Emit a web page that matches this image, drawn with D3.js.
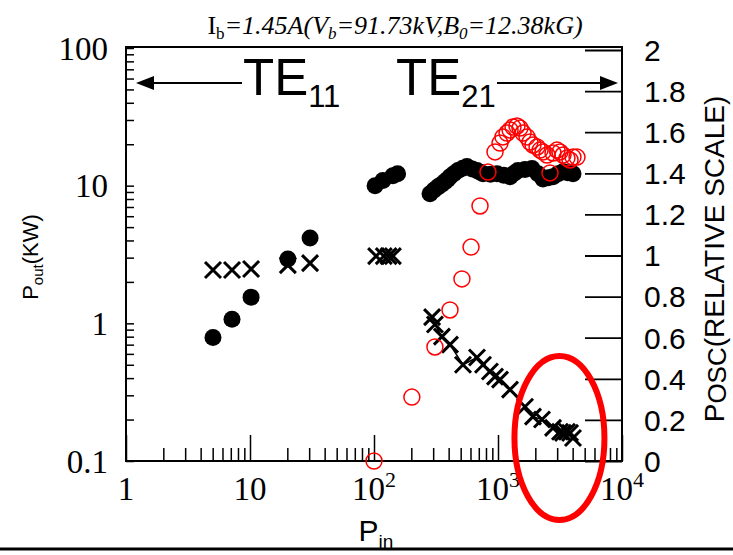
<!DOCTYPE html>
<html>
<head>
<meta charset="utf-8">
<script src="https://cdn.jsdelivr.net/npm/d3@7"></script>
<style>
  html, body { margin: 0; padding: 0; background: #fff; }
  svg { display: block; }
</style>
</head>
<body>
<svg id="chart" width="733" height="555"></svg>
<script>
// ---------------- DATA ----------------
// filled black circles: P_out (kW) vs P_in
const circX = [5.03, 7.16, 10.2, 20.2, 30.5, 102, 118, 142, 155,
  283, 305, 328, 350, 374, 392, 410, 440, 476, 520, 562, 620, 677, 720, 757, 870, 982, 1110, 1250, 1350, 1449, 1650, 1880, 2100, 2306, 2540, 2778, 3050, 3343, 3650, 4025];
const circY = [0.79, 1.07, 1.55, 2.93, 4.17, 10.0, 10.9, 11.8, 12.2,
  8.75, 9.3, 9.8, 10.2, 10.7, 11.1, 11.6, 12.2, 12.9, 13.4, 13.8, 13.2, 12.9, 12.5, 12.2, 12.1, 12.2, 11.9, 11.6, 12.3, 12.9, 13.1, 13.3, 12.2, 11.2, 11.4, 11.6, 12.2, 12.6, 12.4, 12.2];

// crosses (low power, separate points)
const crossX = [5.03, 7.16, 10.2, 20.2, 30.5, 104, 120, 131, 142];
const crossY = [2.44, 2.44, 2.48, 2.65, 2.74, 3.08, 3.08, 3.08, 3.08];

// crosses on connected descending line
const lineX = [294, 310, 353, 410, 522, 677, 757, 861, 946, 1038, 1250, 1651, 1915, 2263, 2778, 3162, 3343, 3597, 3810, 4025];
const lineY = [1.11, 0.98, 0.80, 0.70, 0.50, 0.565, 0.50, 0.447, 0.41, 0.39, 0.33, 0.248, 0.21, 0.20, 0.174, 0.163, 0.16, 0.163, 0.16, 0.147];

// red open circles: P_osc (relative scale, right axis)
const oscX = [100, 202, 310, 410, 512, 606, 716, 830, 946,
  1038, 1097, 1182, 1250, 1321, 1422, 1504, 1592, 1714, 1811, 1915, 2065, 2183, 2306, 2485, 2626, 2778, 2992, 3162, 3343, 3597, 3810, 4025, 4335];
const oscY = [0, 0.311, 0.555, 0.735, 0.886, 1.041, 1.241, 1.406, 1.504,
  1.547, 1.577, 1.596, 1.611, 1.625, 1.630, 1.620, 1.596, 1.577, 1.552, 1.538, 1.528, 1.513, 1.504, 1.489, 1.402, 1.499, 1.513, 1.504, 1.489, 1.474, 1.465, 1.479, 1.479];

// axis tick values / labels
const xMajor = [1, 10, 100, 1000, 10000];
const xMajorBase = ["1", "10", "10", "10", "10"];
const xMajorExp = ["", "", "2", "3", "4"];
const yLeftMajor = [100, 10, 1, 0.1];
const yLeftLabels = ["100", "10", "1", "0.1"];
const yRightTicks = [0, 0.2, 0.4, 0.6, 0.8, 1, 1.2, 1.4, 1.6, 1.8, 2];
const yRightLabels = ["0", "0.2", "0.4", "0.6", "0.8", "1", "1.2", "1.4", "1.6", "1.8", "2"];

// annotation ellipse centre (data coords: P_in, P_osc)
const ellipseCentre = [3130, 0.112];

// ---------------- LAYOUT ----------------
const L = 126, R = 622, T = 47, B = 461;
const svg = d3.select("#chart");
const x = d3.scaleLog().domain([1, 10000]).range([L, R]);
const yL = d3.scaleLog().domain([0.1, 100]).range([B, 48]);
const yR = d3.scaleLinear().domain([0, 2]).range([B, 50]);

const serif = "'Liberation Serif','Times New Roman',serif";
const sans = "'Liberation Sans',Arial,sans-serif";

// minor tick arrays
const xMinor = [];
for (let d = 1; d < 10000; d *= 10) for (let k = 2; k <= 9; k++) xMinor.push(d * k);
const yMinor = [];
for (let d = 0.1; d < 100; d *= 10) for (let k = 1; k <= 9; k++) yMinor.push(+(d * k).toPrecision(3));
yMinor.push(100);

// bottom ticks (inward)
svg.append("g").attr("transform", `translate(0,${B})`)
  .call(d3.axisBottom(x).tickValues(xMinor).tickSize(-13).tickFormat(""))
  .call(g => g.select(".domain").remove())
  .call(g => g.selectAll("line").attr("stroke", "#000").attr("stroke-width", 1.5));
svg.append("g").attr("transform", `translate(0,${B})`)
  .call(d3.axisBottom(x).tickValues(xMajor).tickSize(-26).tickFormat(""))
  .call(g => g.select(".domain").remove())
  .call(g => g.selectAll("line").attr("stroke", "#000").attr("stroke-width", 1.5));

// left ticks (inward)
svg.append("g").attr("transform", `translate(${L},0)`)
  .call(d3.axisLeft(yL).tickValues(yMinor).tickSize(-8).tickFormat(""))
  .call(g => g.select(".domain").remove())
  .call(g => g.selectAll("line").attr("stroke", "#000").attr("stroke-width", 1.5));

// right ticks (inward)
svg.append("g").attr("transform", `translate(${R},0)`)
  .call(d3.axisRight(yR).tickValues(yRightTicks).tickSize(-37).tickFormat(""))
  .call(g => g.select(".domain").remove())
  .call(g => g.selectAll("line").attr("stroke", "#000").attr("stroke-width", 1.8));

// frame
svg.append("rect").attr("x", L).attr("y", T).attr("width", R - L).attr("height", B - T)
  .attr("fill", "none").attr("stroke", "#000").attr("stroke-width", 2);

// left labels
svg.append("g").selectAll("text").data(yLeftMajor).join("text")
  .attr("x", 108).attr("y", d => yL(d)).attr("dy", "0.35em")
  .attr("text-anchor", "end").attr("font-family", serif).attr("font-size", 33)
  .text((d, i) => yLeftLabels[i]);

// right labels
svg.append("g").selectAll("text").data(yRightTicks).join("text")
  .attr("x", 644).attr("y", d => yR(d)).attr("dy", "0.36em")
  .attr("text-anchor", "start").attr("font-family", sans).attr("font-size", 30)
  .text((d, i) => yRightLabels[i]);

// bottom labels
const xl = svg.append("g").selectAll("text").data(xMajor).join("text")
  .attr("x", d => x(d)).attr("y", 500)
  .attr("text-anchor", "middle").attr("font-family", serif).attr("font-size", 33);
xl.append("tspan").text((d, i) => xMajorBase[i]);
xl.append("tspan").attr("font-size", 22).attr("dy", -13).text((d, i) => xMajorExp[i]);

// axis titles
svg.append("text").attr("transform", "translate(38,257) rotate(-90)")
  .attr("text-anchor", "middle").attr("font-family", sans).attr("font-size", 22)
  .call(t => {
    t.append("tspan").text("P");
    t.append("tspan").attr("font-size", 15).attr("dy", 5).text("out");
    t.append("tspan").attr("dy", -5).text("(KW)");
  });

svg.append("text").attr("x", 376).attr("y", 541)
  .attr("text-anchor", "middle").attr("font-family", sans).attr("font-size", 30)
  .call(t => {
    t.append("tspan").text("P");
    t.append("tspan").attr("font-size", 19).attr("dy", 7).text("in");
  });

svg.append("text").attr("transform", "translate(724,259) rotate(-90)")
  .attr("text-anchor", "middle").attr("font-family", sans).attr("font-size", 28)
  .call(t => {
    t.append("tspan").text("P");
    t.append("tspan").attr("font-size", 26).attr("dy", 2).text("OSC");
    t.append("tspan").attr("dy", -2).text("(RELATIVE SCALE)");
  });

// title
svg.append("text").attr("x", 395).attr("y", 34)
  .attr("text-anchor", "middle").attr("font-family", serif).attr("font-size", 26)
  .call(t => {
    t.append("tspan").text("I");
    t.append("tspan").attr("font-size", 17).attr("dy", 5).text("b");
    t.append("tspan").attr("dy", -5).attr("font-style", "italic").text("=1.45A(V");
    t.append("tspan").attr("font-size", 17).attr("dy", 5).attr("font-style", "italic").text("b");
    t.append("tspan").attr("dy", -5).attr("font-style", "italic").text("=91.73kV,B");
    t.append("tspan").attr("font-size", 17).attr("dy", 5).attr("font-style", "italic").text("0");
    t.append("tspan").attr("dy", -5).attr("font-style", "italic").text("=12.38kG)");
  });

// TE labels + arrows
function arrow(x1, x2, yy) {
  const g = svg.append("g");
  g.append("line").attr("x1", x1).attr("x2", x2 + (x2 > x1 ? -16 : 16)).attr("y1", yy).attr("y2", yy)
    .attr("stroke", "#000").attr("stroke-width", 2);
  const dir = x2 > x1 ? -1 : 1;
  g.append("path").attr("d", `M${x2},${yy} L${x2 + dir * 18},${yy - 7} L${x2 + dir * 18},${yy + 7} Z`).attr("fill", "#000");
}
arrow(242, 136, 83);
arrow(497, 618, 83);

function teLabel(x0, sub) {
  svg.append("text").attr("x", x0).attr("y", 95).attr("font-family", sans).attr("font-size", 51)
    .call(t => {
      t.append("tspan").text("TE");
      t.append("tspan").attr("font-size", 31).attr("dy", 12).text(sub);
    });
}
teLabel(243, "11");
teLabel(396, "21");

// ---------------- MARKS ----------------
const circData = circX.map((v, i) => [v, circY[i]]);
const crossData = crossX.map((v, i) => [v, crossY[i]]);
const lineData = lineX.map((v, i) => [v, lineY[i]]);
const oscData = oscX.map((v, i) => [v, oscY[i]]);

const crossPath = (cx, cy, s) => `M${cx - s},${cy - s}L${cx + s},${cy + s}M${cx - s},${cy + s}L${cx + s},${cy - s}`;

// connecting line for descending crosses
svg.append("path").datum(lineData)
  .attr("d", d3.line().x(d => x(d[0])).y(d => yL(d[1])))
  .attr("fill", "none").attr("stroke", "#000").attr("stroke-width", 1.5);

svg.append("g").selectAll("circle").data(circData).join("circle")
  .attr("cx", d => x(d[0])).attr("cy", d => yL(d[1])).attr("r", 8.5).attr("fill", "#000");

svg.append("g").selectAll("path").data(crossData.concat(lineData)).join("path")
  .attr("d", d => crossPath(x(d[0]), yL(d[1]), 8))
  .attr("stroke", "#000").attr("stroke-width", 3).attr("fill", "none");

svg.append("g").selectAll("circle").data(oscData).join("circle")
  .attr("cx", d => x(d[0])).attr("cy", d => yR(d[1])).attr("r", 8)
  .attr("fill", "none").attr("stroke", "#f00").attr("stroke-width", 1.5);

// annotation ellipse
svg.append("ellipse").attr("cx", x(ellipseCentre[0])).attr("cy", yR(ellipseCentre[1]))
  .attr("rx", 45).attr("ry", 82).attr("fill", "none").attr("stroke", "#f00").attr("stroke-width", 6);

// bottom rule
svg.append("line").attr("x1", 0).attr("x2", 733).attr("y1", 549).attr("y2", 549)
  .attr("stroke", "#000").attr("stroke-width", 3);
</script>
</body>
</html>
